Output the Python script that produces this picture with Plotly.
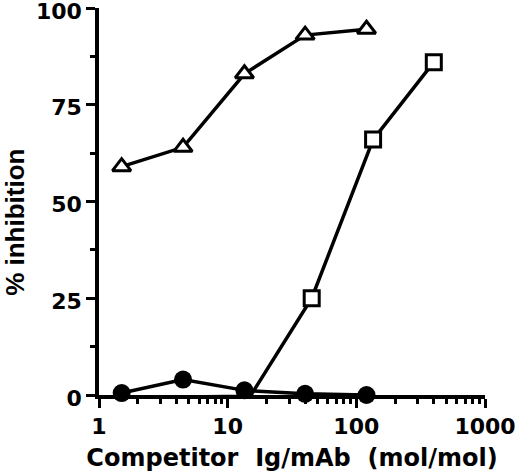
import plotly.graph_objects as go

# competitor dilutions (mol/mol) and % inhibition
x_tri = [1.5, 4.5, 13.5, 40, 120]
y_tri = [59, 64, 83, 93, 94.5]

x_sq = [5, 15, 45, 135, 400]
y_sq = [-0.5, -0.3, 25, 66, 86]

x_circ = [1.5, 4.5, 13.5, 40, 120]
y_circ = [0.5, 4, 1.2, 0.3, 0]

x_ticks = [1, 10, 100, 1000]
x_ticktext = ["1", "10", "100", "1000"]
y_ticks = [0, 25, 50, 75, 100]

tickfnt = dict(family="DejaVu Sans, sans-serif", size=22, color="black", weight="bold")
xtitlefnt = dict(family="DejaVu Sans, sans-serif", size=24, color="black", weight="bold")
ytitlefnt = dict(family="Liberation Sans, Arial, sans-serif", size=26, color="black", weight="bold")

fig = go.Figure()
fig.add_trace(go.Scatter(
    x=x_circ, y=y_circ, mode="lines+markers",
    line=dict(color="black", width=3.5),
    marker=dict(symbol="circle", size=18, color="black"),
    cliponaxis=False))
fig.add_trace(go.Scatter(
    x=x_sq, y=y_sq, mode="lines+markers",
    line=dict(color="black", width=3.5),
    marker=dict(symbol="square", size=15, color="white",
                line=dict(color="black", width=3)),
    cliponaxis=False))
fig.add_trace(go.Scatter(
    x=x_tri, y=y_tri, mode="lines+markers",
    line=dict(color="black", width=3.5),
    marker=dict(symbol="triangle-up", size=16, color="white",
                line=dict(color="black", width=3)),
    cliponaxis=False))

fig.update_layout(
    width=520, height=476,
    margin=dict(l=99, r=35, t=8, b=81),
    paper_bgcolor="white", plot_bgcolor="white",
    showlegend=False,
    font=tickfnt,
)
fig.update_xaxes(
    type="log", range=[0, 3], automargin=False,
    tickvals=x_ticks, ticktext=x_ticktext,
    ticks="outside", ticklen=9, tickwidth=3, tickcolor="black",
    minor=dict(ticks="outside", ticklen=5, tickwidth=2.5, tickcolor="black", dtick="D1"),
    showline=True, linecolor="black", linewidth=3.5,
    showgrid=False, zeroline=False,
    tickfont=tickfnt, ticklabeloverflow="allow",
    title=dict(text="Competitor  Ig/mAb  (mol/mol)", font=xtitlefnt, standoff=12),
)
fig.update_yaxes(
    range=[0, 100], automargin=False,
    tickvals=y_ticks,
    ticks="outside", ticklen=9, tickwidth=3, tickcolor="black",
    minor=dict(ticks="outside", ticklen=5, tickwidth=2.5, tickcolor="black", dtick=12.5, tick0=0),
    showline=True, linecolor="black", linewidth=3.5,
    showgrid=False, zeroline=False,
    tickfont=tickfnt, ticklabeloverflow="allow", ticklabelshift=3,
)
# y title sits a little below the axis centre in the original
fig.add_annotation(
    text="% inhibition", textangle=-90, font=ytitlefnt,
    xref="paper", yref="paper", x=-0.218, y=0.447,
    showarrow=False, xanchor="center", yanchor="middle")

fig.write_html("out.html", config={"displayModeBar": False},
               post_script="document.body.style.margin='0';")
